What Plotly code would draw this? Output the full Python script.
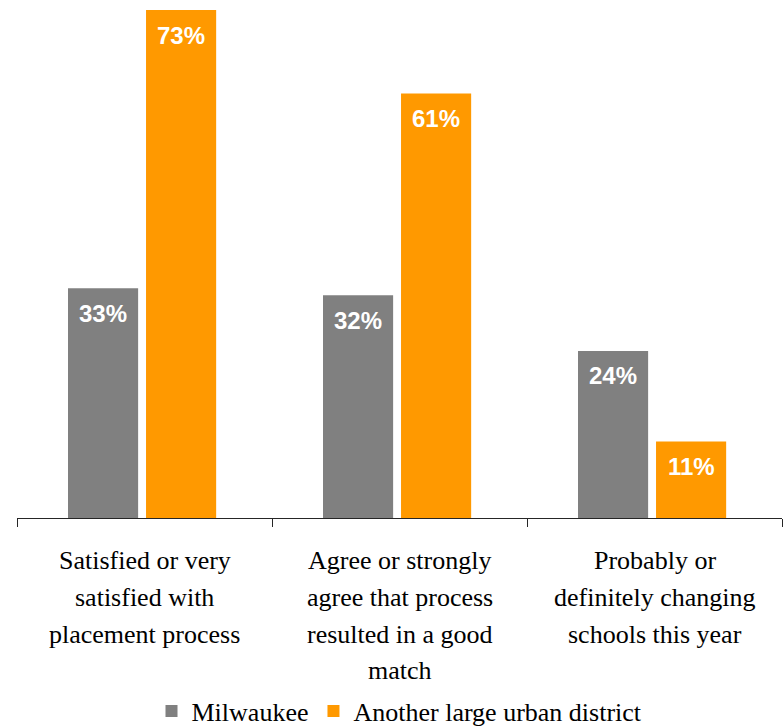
import plotly.graph_objects as go

# Survey results: share of respondents, in percent
categories = ["satisfied", "good_match", "changing"]
category_lines = [
    ["Satisfied or very", "satisfied with", "placement process"],
    ["Agree or strongly", "agree that process", "resulted in a good", "match"],
    ["Probably or", "definitely changing", "schools this year"],
]
series_names = ["Milwaukee", "Another large urban district"]
milwaukee = [33, 32, 24]
other_district = [73, 61, 11]

colors = ["#808080", "#FF9900"]
serif = "'Liberation Serif', 'DejaVu Serif', 'Times New Roman', serif"
BAR_WIDTH = 0.275
BAR_OFFSETS = [-0.300, 0.006]

fig = go.Figure()
for name, vals, col, off in zip(series_names, [milwaukee, other_district],
                                colors, BAR_OFFSETS):
    fig.add_trace(go.Bar(
        x=categories, y=vals, name=name,
        width=BAR_WIDTH, offset=off,
        marker=dict(color=col, line=dict(width=0)),
    ))

# value labels inside each bar, near its top
annotations = []
for vals, off in zip([milwaukee, other_district], BAR_OFFSETS):
    for i, v in enumerate(vals):
        annotations.append(dict(
            x=i + off + BAR_WIDTH / 2, y=v, xref="x", yref="y",
            text=f"<b>{v}%</b>", showarrow=False,
            yanchor="middle", yshift=-25,
            font=dict(family="Arial", size=24, color="white"),
        ))

# multi-line category labels beneath the axis
line_offsets = [-42, -79, -116, -152]
for i, lines in enumerate(category_lines):
    for j, line in enumerate(lines):
        annotations.append(dict(
            x=i, y=0, xref="x", yref="paper",
            text=line, showarrow=False,
            yanchor="middle", yshift=line_offsets[j],
            font=dict(family=serif, size=26, color="black"),
        ))

fig.update_layout(
    width=784, height=727,
    margin=dict(l=17, r=2, t=10, b=209, autoexpand=False),
    plot_bgcolor="white", paper_bgcolor="white",
    barmode="overlay",
    showlegend=True,
    legend=dict(
        orientation="h", x=0.5, xanchor="center", y=-0.38, yanchor="middle",
        font=dict(family=serif, size=26, color="black"),
        itemwidth=30, traceorder="normal",
    ),
    xaxis=dict(
        type="category", range=[-0.5, 2.5],
        showticklabels=False, showgrid=False,
        showline=True, linecolor="#262626", linewidth=1,
        ticks="outside", tickson="boundaries", ticklen=8,
        tickcolor="#262626", tickwidth=1,
    ),
    yaxis=dict(
        range=[0, 73], visible=False, showgrid=False,
    ),
    annotations=annotations,
)

fig.write_html("out.html")
